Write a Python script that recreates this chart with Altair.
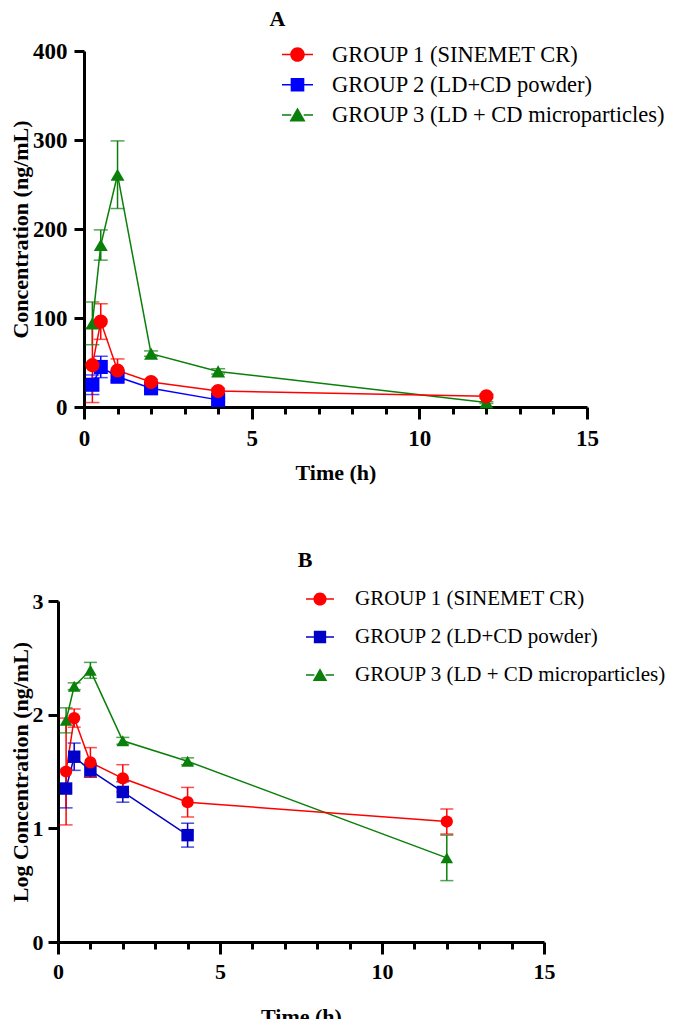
import altair as alt
import pandas as pd

groups = ["GROUP 1 (SINEMET CR)", "GROUP 2 (LD+CD powder)", "GROUP 3 (LD + CD microparticles)"]

times_g1 = [0.25, 0.5, 1, 2, 4, 12]
times_g2 = [0.25, 0.5, 1, 2, 4]
times_g3 = [0.25, 0.5, 1, 2, 4, 12]

# Panel A: concentration (ng/mL), mean and SD
conc_g1 = [47, 96, 41, 28, 18, 12]
sd_g1 = [42, 20, 13, 3, 3, 2]
conc_g2 = [25, 45, 34, 21, 8]
sd_g2 = [11, 12, 4, 3, 2]
conc_g3 = [94, 182, 261, 60, 40, 5]
sd_g3 = [24, 17, 38, 3, 3, 1]

# Panel B: log concentration, mean and SD
log_g1 = [1.50, 1.97, 1.58, 1.44, 1.23, 1.06]
logsd_g1 = [0.47, 0.08, 0.13, 0.12, 0.13, 0.11]
log_g2 = [1.35, 1.63, 1.51, 1.32, 0.94]
logsd_g2 = [0.17, 0.12, 0.06, 0.09, 0.105]
log_g3 = [1.95, 2.25, 2.39, 1.77, 1.59, 0.74]
logsd_g3 = [0.11, 0.03, 0.07, 0.03, 0.03, 0.20]

FONT = "Liberation Serif"


def frame(series):
    rows = []
    # draw order: group 3, group 2, group 1 (red on top)
    for g, ts, ms, sds in series:
        for t, m, s in zip(ts, ms, sds):
            rows.append({"group": g, "t": t, "m": m, "lo": m - s, "hi": m + s})
    return pd.DataFrame(rows)


dfA = frame([(groups[2], times_g3, conc_g3, sd_g3),
             (groups[1], times_g2, conc_g2, sd_g2),
             (groups[0], times_g1, conc_g1, sd_g1)])
dfB = frame([(groups[2], times_g3, log_g3, logsd_g3),
             (groups[1], times_g2, log_g2, logsd_g2),
             (groups[0], times_g1, log_g1, logsd_g1)])

circle_path = ("M-1,-0.05H-0.46V0.05H-1Z M0.46,-0.05H1V0.05H0.46Z "
               "M0.47,0A0.47,0.47,0,1,1,-0.47,0A0.47,0.47,0,1,1,0.47,0Z")
square_path = ("M-1,-0.05H-0.44V0.05H-1Z M0.44,-0.05H1V0.05H0.44Z "
               "M-0.44,-0.44H0.44V0.44H-0.44Z")
triangle_path = ("M-1,-0.05H-0.4V0.05H-1Z M0.4,-0.05H1V0.05H0.4Z "
                 "M0,-0.48L0.52,0.42H-0.52Z")


def panel(df, ydom, yvals, ytitle, title, colors, sizes, tick_fs, legend_fs,
          leg_x, leg_y, leg_sym, leg_rowpad, leg_laboff, width, height,
          title_dx, title_offset, x_labpad, x_titlepad, y_labpad, y_titlepad, cap):
    xaxis = alt.Axis(
        values=list(range(16)),
        labelExpr="datum.value % 5 === 0 ? datum.label : ''",
        tickSize={"condition": {"test": "datum.value % 5 === 0", "value": 12}, "value": 7},
        title="Time (h)", labelPadding=x_labpad, titlePadding=x_titlepad,
        labelFontSize=tick_fs, labelFlush=False, labelOverlap=False,
    )
    yaxis = alt.Axis(values=yvals, tickSize=10, title=ytitle,
                     labelPadding=y_labpad, titlePadding=y_titlepad,
                     labelFontSize=tick_fs)
    xs = alt.Scale(domain=[0, 15], nice=False, zero=False)
    ys = alt.Scale(domain=ydom, nice=False)

    def X():
        return alt.X("t:Q", scale=xs, axis=xaxis, title="Time (h)")

    def Y(field):
        return alt.Y(field, scale=ys, axis=yaxis, title=ytitle)

    def C(field="group:N", legend=None):
        return alt.Color(field, scale=alt.Scale(domain=groups, range=colors), legend=legend)

    base = alt.Chart(df)
    rules = base.mark_rule(strokeWidth=1.5).encode(x=X(), y=Y("lo:Q"), y2="hi:Q", color=C())
    caps = base.transform_fold(["lo", "hi"], as_=["k", "v"]).mark_tick(
        orient="horizontal", size=cap, thickness=1.5).encode(x=X(), y=Y("v:Q"), color=C())
    lines = base.mark_line(strokeWidth=1.5).encode(x=X(), y=Y("m:Q"), color=C())
    pts = base.mark_point(filled=True, opacity=1, strokeWidth=0).encode(
        x=X(), y=Y("m:Q"), color=C(),
        shape=alt.Shape("group:N", scale=alt.Scale(domain=groups, range=["circle", "square", "triangle-up"]), legend=None),
        size=alt.Size("group:N", scale=alt.Scale(domain=groups, range=sizes), legend=None),
    )
    leg = alt.Legend(title=None, orient="none", legendX=leg_x, legendY=leg_y, direction="vertical",
                     symbolSize=leg_sym, rowPadding=leg_rowpad, labelOffset=leg_laboff,
                     labelFont=FONT, labelFontSize=legend_fs, labelColor="black", labelLimit=1000,
                     symbolStrokeWidth=0, symbolOpacity=1, padding=0)
    carrier = base.transform_filter("false").mark_point(filled=True, opacity=1).encode(
        x=X(), y=Y("m:Q"),
        color=alt.Color("group:N", scale=alt.Scale(domain=groups, range=colors), legend=leg),
        shape=alt.Shape("group:N", scale=alt.Scale(domain=groups, range=[circle_path, square_path, triangle_path]), legend=leg),
    )
    ch = alt.layer(rules, caps, lines, pts, carrier).resolve_scale(
        color="independent", shape="independent", size="independent"
    ).properties(
        width=width, height=height,
        title=alt.TitleParams(title, font=FONT, fontSize=22, fontWeight="bold", color="black",
                              anchor="middle", dx=title_dx, offset=title_offset),
    )
    return ch


def spacer():
    return alt.Chart(pd.DataFrame({"s": [0]})).mark_point(
        opacity=0, size=0, strokeWidth=0
    ).encode(
        x=alt.X("s:Q", axis=None), y=alt.Y("s:Q", axis=None)
    ).properties(width=1, height=1)


def row(panel_chart):
    return alt.hconcat(spacer(), panel_chart, spacing=0).resolve_scale(
        x="independent", y="independent",
        color="independent", shape="independent", size="independent")


A = panel(dfA, [0, 400], [0, 100, 200, 300, 400], "Concentration (ng/mL)", "A",
          ["#FF0000", "#0000FF", "#0A7F0A"], [200, 196, 270], 23, 22.5,
          198, -12, 961, 3.2, 19, 503, 356, -58, 8, 8, 12, 7, 0, 14)
B = panel(dfB, [0, 3], [0, 1, 2, 3], "Log Concentration (ng/mL)", "B",
          ["#FF0000", "#0000C8", "#0A7F0A"], [150, 160, 200], 22, 21,
          248, -16, 784, 14, 21, 486, 341, 4, 13, 7, 24, 5, 0, 13)

chart = alt.vconcat(row(A), row(B), spacing=66).resolve_scale(
    x="independent", y="independent",
    color="independent", shape="independent", size="independent"
).properties(
    padding={"left": 0, "top": 0, "right": 0, "bottom": 0}
).configure_axis(
    grid=False, domainColor="black", domainWidth=3, tickColor="black", tickWidth=3,
    labelFont=FONT, labelFontWeight="bold", labelColor="black",
    titleFont=FONT, titleFontWeight="bold", titleFontSize=22, titleColor="black",
).configure_view(stroke=None)

chart.save("out.html", embed_options={"renderer": "svg", "actions": False})
